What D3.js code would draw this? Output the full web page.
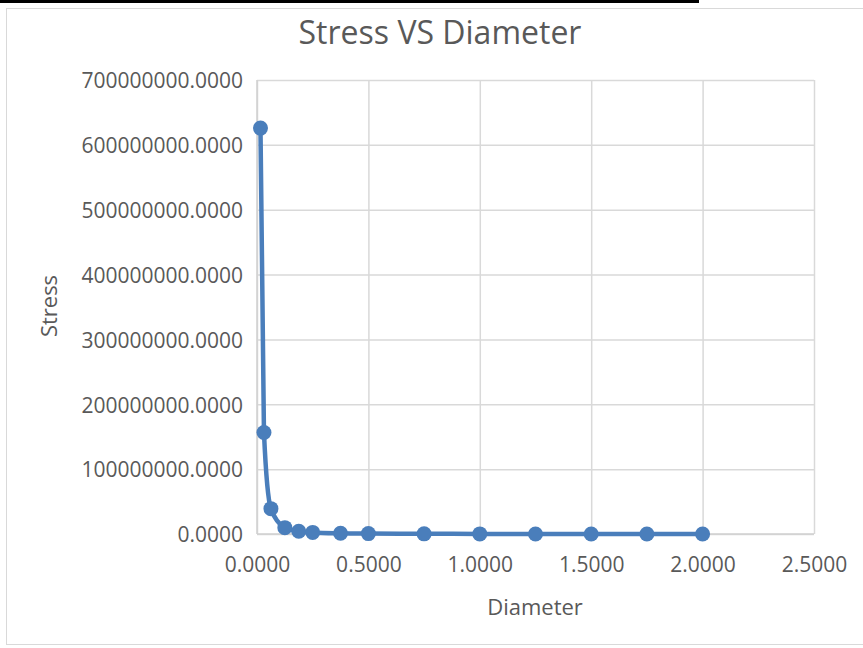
<!DOCTYPE html>
<html>
<head>
<meta charset="utf-8">
<script src="https://cdn.jsdelivr.net/npm/d3@7"></script>
<style>
  html, body { margin: 0; padding: 0; background: #ffffff; }
  svg { display: block; }
  text { font-family: "Open Sans", "Noto Sans", sans-serif; fill: #595959; }
</style>
</head>
<body>
<svg id="chart" width="863" height="648"></svg>
<script>
// Diameter (m) and the resulting stress values
const diameters = [0.015625, 0.03125, 0.0625, 0.125, 0.1875, 0.25, 0.375, 0.5, 0.75, 1.0, 1.25, 1.5, 1.75, 2.0];
const stresses = [625822700, 156455675, 39113919, 9778480, 4345991, 2444620, 1086498, 611155, 271624, 152789, 97785, 67906, 49890, 38197];

const xTicks = [0, 0.5, 1.0, 1.5, 2.0, 2.5];
const yTicks = [0, 100000000, 200000000, 300000000, 400000000, 500000000, 600000000, 700000000];

const chartTitle = "Stress VS Diameter";
const xTitle = "Diameter";
const yTitle = "Stress";

// table cell borders above the chart
const tableEdges = [0, 270, 398, 571, 698];

const svg = d3.select("#chart");

// table border strip
svg.append("line")
  .attr("x1", 0).attr("x2", tableEdges[tableEdges.length - 1] + 1)
  .attr("y1", 1.5).attr("y2", 1.5)
  .attr("stroke", "#000").attr("stroke-width", 3);
svg.selectAll("line.cell").data(tableEdges).join("line")
  .attr("class", "cell")
  .attr("x1", d => d + 0.5).attr("x2", d => d + 0.5)
  .attr("y1", 0).attr("y2", 3)
  .attr("stroke", "#000").attr("stroke-width", d => (d === 0 ? 2 : 1));

// chart area frame
svg.append("rect")
  .attr("x", 6.5).attr("y", 8.5)
  .attr("width", 900).attr("height", 636)
  .attr("fill", "#fff")
  .attr("stroke", "#d9d9d9").attr("stroke-width", 1);

const plot = { left: 257, right: 814, top: 80, bottom: 534 };

const x = d3.scaleLinear().domain([0, 2.5]).range([plot.left, plot.right]);
const y = d3.scaleLinear().domain([0, 700000000]).range([plot.bottom, plot.top]);

// horizontal gridlines
svg.append("g")
  .attr("transform", `translate(${plot.left},0)`)
  .call(d3.axisLeft(y).tickValues(yTicks).tickSize(-(plot.right - plot.left)).tickFormat(""))
  .call(g => g.select(".domain").remove())
  .call(g => g.selectAll(".tick line").attr("stroke", "#d9d9d9").attr("stroke-width", 1.5));

// vertical gridlines
svg.append("g")
  .attr("transform", `translate(0,${plot.bottom})`)
  .call(d3.axisBottom(x).tickValues(xTicks).tickSize(-(plot.bottom - plot.top)).tickFormat(""))
  .call(g => g.select(".domain").remove())
  .call(g => g.selectAll(".tick line").attr("stroke", "#d9d9d9").attr("stroke-width", 1.5));

// axis lines
svg.append("line")
  .attr("x1", plot.left).attr("x2", plot.right)
  .attr("y1", plot.bottom).attr("y2", plot.bottom)
  .attr("stroke", "#d0d0d0").attr("stroke-width", 1.5);
svg.append("line")
  .attr("x1", plot.left).attr("x2", plot.left)
  .attr("y1", plot.top).attr("y2", plot.bottom)
  .attr("stroke", "#d0d0d0").attr("stroke-width", 1.5);

// tick labels
const fmt4 = d3.format(".4f");
svg.append("g")
  .attr("transform", `translate(${plot.left},1)`)
  .call(d3.axisLeft(y).tickValues(yTicks).tickSize(0).tickPadding(14).tickFormat(fmt4))
  .call(g => g.select(".domain").remove())
  .call(g => g.selectAll("text")
    .attr("font-size", 21).attr("font-family", "'Open Sans', sans-serif").attr("fill", "#595959"));

svg.append("g")
  .attr("transform", `translate(0,${plot.bottom})`)
  .call(d3.axisBottom(x).tickValues(xTicks).tickSize(0).tickPadding(23).tickFormat(fmt4))
  .call(g => g.select(".domain").remove())
  .call(g => g.selectAll("text")
    .attr("font-size", 21).attr("font-family", "'Open Sans', sans-serif").attr("fill", "#595959"));

// series
const points = diameters.map((d, i) => ({ d, s: stresses[i] }));
const line = d3.line()
  .x(p => x(p.d))
  .y(p => y(p.s))
  .curve(d3.curveMonotoneX);

svg.append("path")
  .datum(points)
  .attr("d", line)
  .attr("fill", "none")
  .attr("stroke", "#4a7ebb")
  .attr("stroke-width", 4.5)
  .attr("stroke-linejoin", "round");

svg.selectAll("circle.pt").data(points).join("circle")
  .attr("class", "pt")
  .attr("cx", p => x(p.d))
  .attr("cy", p => y(p.s))
  .attr("r", 7.5)
  .attr("fill", "#4a7ebb");

// titles
svg.append("text")
  .attr("x", 440).attr("y", 44)
  .attr("text-anchor", "middle")
  .attr("font-size", 32)
  .text(chartTitle);

svg.append("text")
  .attr("x", 535).attr("y", 615)
  .attr("text-anchor", "middle")
  .attr("font-size", 22)
  .text(xTitle);

svg.append("text")
  .attr("transform", "translate(57,306) rotate(-90)")
  .attr("text-anchor", "middle")
  .attr("font-size", 22)
  .text(yTitle);
</script>
</body>
</html>
